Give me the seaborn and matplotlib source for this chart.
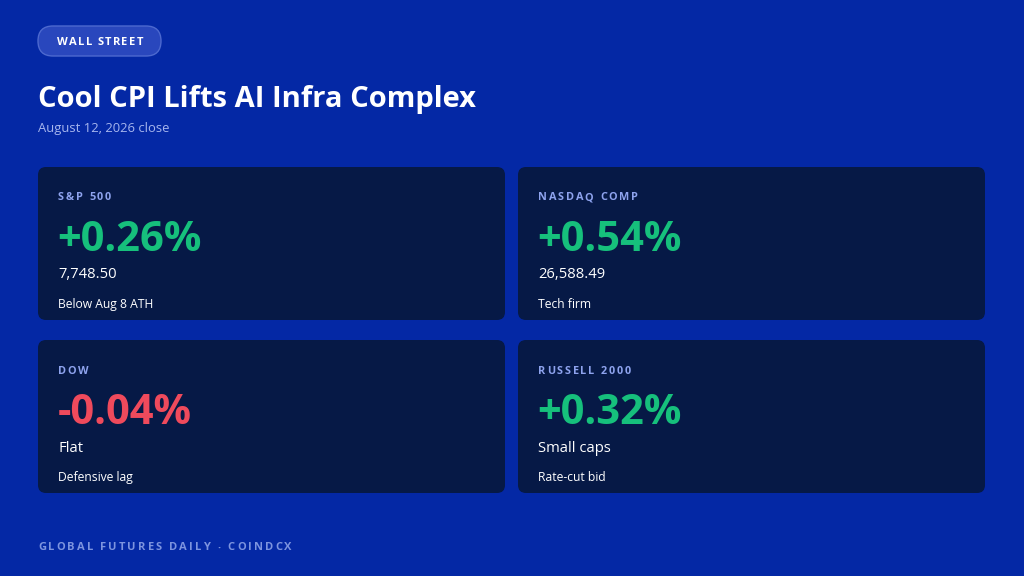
import matplotlib
matplotlib.use("Agg")
import matplotlib.pyplot as plt
import seaborn as sns
from matplotlib.patches import FancyBboxPatch
from matplotlib.font_manager import FontProperties

# data
names = ["S&P 500", "NASDAQ COMP", "DOW", "RUSSELL 2000"]
changes = [0.26, 0.54, -0.04, 0.32]
levels = ["7,748.50", "26,588.49", "Flat", "Small caps"]
notes = ["Below Aug 8 ATH", "Tech firm", "Defensive lag", "Rate-cut bid"]

kicker = "WALL STREET"
title = "Cool CPI Lifts AI Infra Complex"
subtitle = "August 12, 2026 close"
footer = "GLOBAL FUTURES DAILY · COINDCX"

BG = "#0428a5"
CARD = "#061946"
GREEN = "#16c07c"
RED = "#ef4a5c"
LABEL = "#8ea3ee"
FONT = ["Open Sans", "DejaVu Sans"]

sns.set_theme(style="white")
plt.rcParams["font.family"] = FONT

fig = plt.figure(figsize=(10.24, 5.76), dpi=100, facecolor=BG)
ax = fig.add_axes([0, 0, 1, 1])
ax.set_xlim(0, 1024)
ax.set_ylim(576, 0)
ax.set_facecolor(BG)
ax.axis("off")

renderer = fig.canvas.get_renderer()


def spaced_text(x, y, s, size, color, spacing, weight="bold", ha="left"):
    # matplotlib has no letter-spacing, so place the characters one by one
    fp = FontProperties(family=FONT, size=size, weight=weight)
    widths = []
    for ch in s:
        w, h, d = renderer.get_text_width_height_descent(ch, fp, ismath=False)
        widths.append(w)
    total = sum(widths) + spacing * (len(s) - 1)
    if ha == "center":
        x = x - total / 2
    for ch, w in zip(s, widths):
        ax.text(x, y, ch, fontproperties=fp, color=color, va="center", ha="left")
        x += w + spacing


# kicker pill
pill = FancyBboxPatch((38, 26), 123, 30, boxstyle="round,pad=0,rounding_size=15",
                      facecolor="#2947bd", edgecolor="#4d69cf", linewidth=1)
ax.add_patch(pill)
spaced_text(100, 42.5, kicker, 8, "white", 1.3, ha="center")

ax.text(37.5, 99, title, color="white", fontsize=21, fontweight="bold", va="center", ha="left")
ax.text(38, 128.5, subtitle, color="#a7b6ee", fontsize=9.4, va="center", ha="left")

# cards
card_x = [38, 518, 38, 518]
card_y = [167, 167, 340, 340]
for i in range(len(names)):
    x0, y0 = card_x[i], card_y[i]
    card = FancyBboxPatch((x0, y0), 467, 153, boxstyle="round,pad=0,rounding_size=8",
                          facecolor=CARD, edgecolor="none")
    ax.add_patch(card)
    spaced_text(x0 + 20, y0 + 31, names[i], 7.8, LABEL, 1.8)
    col = GREEN if changes[i] >= 0 else RED
    ax.text(x0 + 19.5, y0 + 73.5, f"{changes[i]:+.2f}%", color=col, fontsize=30,
            fontweight="bold", va="center", ha="left")
    ax.text(x0 + 20, y0 + 108, levels[i], color="white", fontsize=10.6, va="center", ha="left")
    ax.text(x0 + 20, y0 + 137.5, notes[i], color="white", fontsize=8.7, va="center", ha="left")

spaced_text(38, 548, footer, 8, "#7d94df", 2.1)

fig.savefig("out.png", dpi=100, facecolor=BG)
